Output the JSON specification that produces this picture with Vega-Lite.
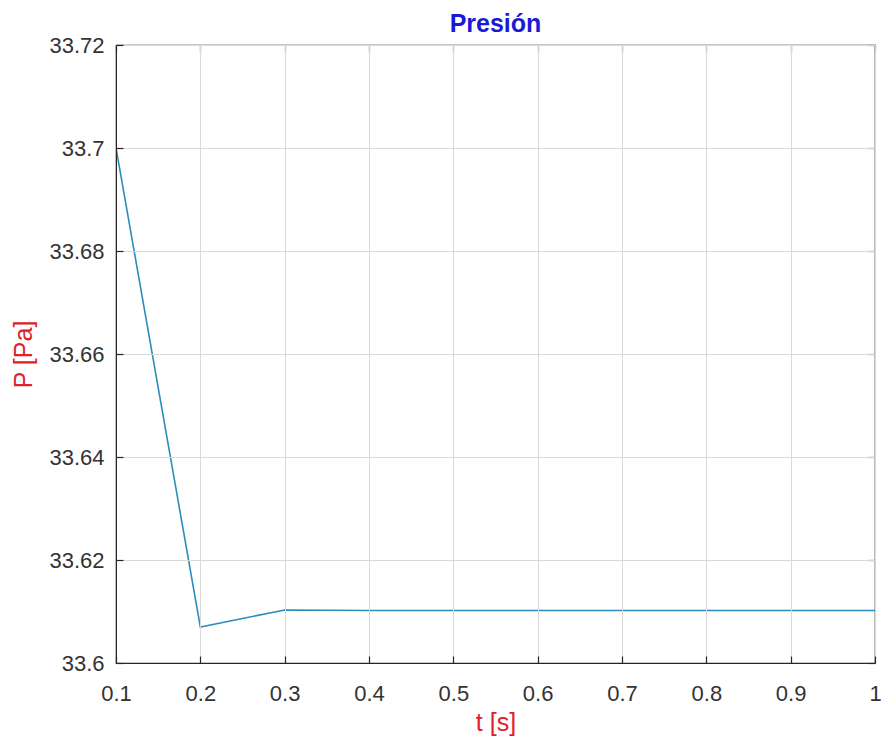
{
  "$schema": "https://vega.github.io/schema/vega-lite/v6.json",
  "autosize": {"type": "none"},
  "width": 759,
  "height": 618,
  "padding": {"left": 116, "top": 45, "right": 8, "bottom": 81},
  "background": "white",
  "title": {"text": "Presión", "color": "#1a1ad6", "fontSize": 25, "fontWeight": "bold", "font": "Liberation Sans", "offset": -3, "anchor": "middle"},
  "config": {
    "view": {"stroke": "#262626", "strokeWidth": 1.2},
    "axis": {"labelFont": "Liberation Sans", "titleFont": "Liberation Sans", "labelFontSize": 22, "labelColor": "#333333", "labelFlush": false, "domainColor": "#262626", "tickColor": "#262626", "tickWidth": 1.2, "gridColor": "#d9d9d9", "gridOpacity": 1, "titleFontWeight": "normal", "titleFontSize": 25, "titleColor": "#e0202a"}
  },
  "resolve": {"axis": {"x": "independent", "y": "independent"}},
  "data": {"values": [
    {"t": 0.1, "P": 33.7},
    {"t": 0.2, "P": 33.607},
    {"t": 0.3, "P": 33.6103},
    {"t": 0.4, "P": 33.6102},
    {"t": 0.5, "P": 33.6102},
    {"t": 0.6, "P": 33.6102},
    {"t": 0.7, "P": 33.6102},
    {"t": 0.8, "P": 33.6102},
    {"t": 0.9, "P": 33.6102},
    {"t": 1.0, "P": 33.6102}
  ]},
  "layer": [
    {
      "mark": {"type": "line", "color": "#2b8dbb", "strokeWidth": 1.6, "clip": true},
      "encoding": {
        "x": {"field": "t", "type": "quantitative", "scale": {"domain": [0.1, 1], "nice": false, "zero": false},
          "axis": {"title": "t [s]", "zindex": 1, "values": [0.1,0.2,0.3,0.4,0.5,0.6,0.7,0.8,0.9,1], "format": "~g", "tickSize": -7, "labelPadding": 27, "titlePadding": 6}},
        "y": {"field": "P", "type": "quantitative", "scale": {"domain": [33.6, 33.72], "nice": false, "zero": false},
          "axis": {"title": "P [Pa]", "zindex": 1, "values": [33.6,33.62,33.64,33.66,33.68,33.7,33.72], "format": "~g", "tickSize": -7, "labelPadding": 19, "titlePadding": 12}}
      }
    },
    {
      "mark": {"type": "line", "opacity": 0},
      "encoding": {
        "x": {"field": "t", "type": "quantitative", "scale": {"domain": [0.1, 1], "nice": false, "zero": false},
          "axis": {"orient": "top", "title": null, "labels": false, "grid": false, "values": [0.1,0.2,0.3,0.4,0.5,0.6,0.7,0.8,0.9,1], "tickSize": -7}},
        "y": {"field": "P", "type": "quantitative", "scale": {"domain": [33.6, 33.72], "nice": false, "zero": false},
          "axis": {"orient": "right", "title": null, "labels": false, "grid": false, "values": [33.6,33.62,33.64,33.66,33.68,33.7,33.72], "tickSize": -7}}
      }
    }
  ]
}
